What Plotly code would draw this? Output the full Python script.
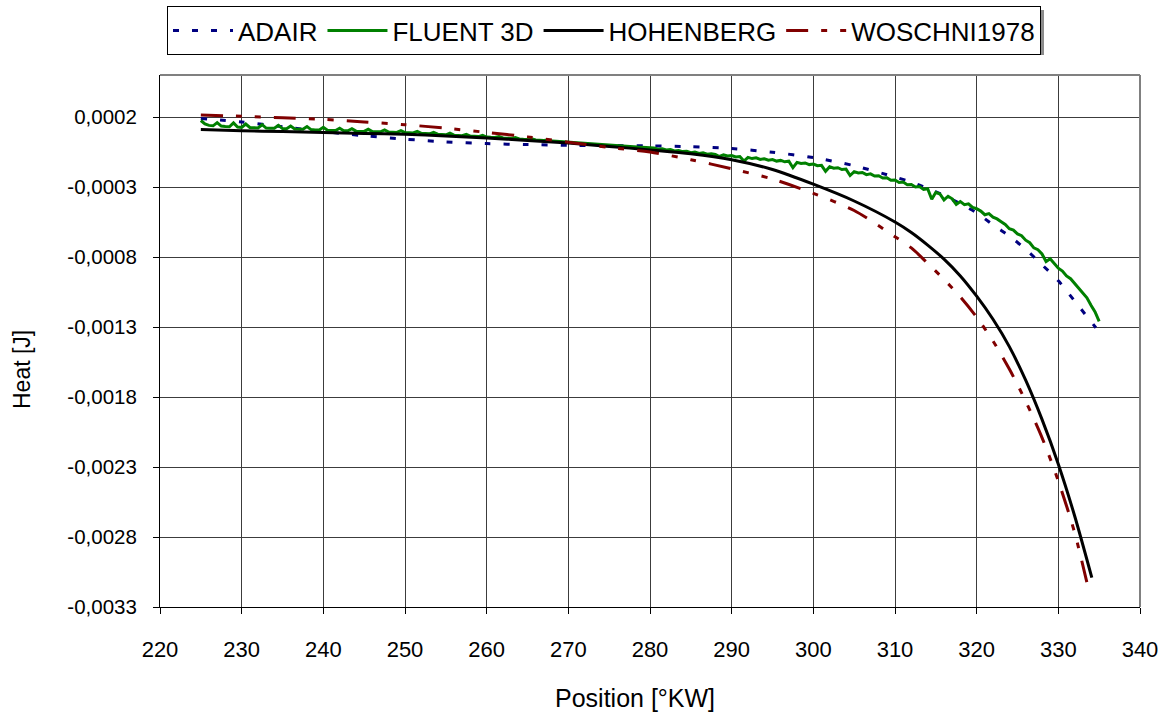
import plotly.graph_objects as go

# ---------------- data ----------------
adair_x = [225, 230, 235, 240, 245, 250, 255, 260, 265, 270, 275, 280, 285, 290, 295,
           300, 305, 310, 312, 314, 316, 318, 320, 322, 324, 326, 328, 330, 332, 334.6]
adair_y = [190e-6, 164e-6, 131e-6, 96e-6, 66e-6, 42e-6, 22e-6, 10e-6, 3e-6, -2e-6,
           -4e-6, -6e-6, -12e-6, -25e-6, -52e-6, -90e-6, -148e-6, -229e-6, -265e-6,
           -310e-6, -360e-6, -420e-6, -485e-6, -570e-6, -650e-6, -745e-6, -855e-6,
           -970e-6, -1115e-6, -1305e-6]

hohenberg_x = [225, 230, 235, 240, 245, 250, 255, 260, 265, 270, 275, 280, 285, 290, 295,
               300, 305, 310, 312, 314, 316, 318, 320, 322, 324, 326, 328, 330, 332, 334.1]
hohenberg_y = [110e-6, 102e-6, 96e-6, 90e-6, 83e-6, 76e-6, 65e-6, 50e-6, 33e-6, 14e-6,
               -10e-6, -35e-6, -62e-6, -105e-6, -175e-6, -280e-6, -400e-6, -550e-6,
               -625e-6, -715e-6, -815e-6, -935e-6, -1080e-6, -1245e-6, -1440e-6,
               -1680e-6, -1960e-6, -2280e-6, -2650e-6, -3090e-6]

woschni_x = [225, 230, 235, 240, 245, 250, 255, 260, 265, 270, 275, 280, 285, 290, 295,
             300, 305, 310, 312, 314, 316, 318, 320, 322, 324, 326, 328, 330, 332, 333.8]
woschni_y = [215e-6, 205e-6, 195e-6, 183e-6, 165e-6, 145e-6, 120e-6, 90e-6, 58e-6, 20e-6,
             -18e-6, -50e-6, -105e-6, -170e-6, -243e-6, -345e-6, -468e-6, -655e-6,
             -735e-6, -845e-6, -960e-6, -1085e-6, -1230e-6, -1400e-6, -1600e-6,
             -1830e-6, -2090e-6, -2400e-6, -2770e-6, -3200e-6]

fluent_x = [
    225.0, 225.5, 226.0, 226.5, 227.0, 227.5, 228.0, 228.5, 229.0, 229.5,
    230.0, 230.5, 231.0, 231.5, 232.0, 232.5, 233.0, 233.5, 234.0, 234.5,
    235.0, 235.5, 236.0, 236.5, 237.0, 237.5, 238.0, 238.5, 239.0, 239.5,
    240.0, 240.5, 241.0, 241.5, 242.0, 242.5, 243.0, 243.5, 244.0, 244.5,
    245.0, 245.5, 246.0, 246.5, 247.0, 247.5, 248.0, 248.5, 249.0, 249.5,
    250.0, 250.5, 251.0, 251.5, 252.0, 252.5, 253.0, 253.5, 254.0, 254.5,
    255.0, 255.5, 256.0, 256.5, 257.0, 257.5, 258.0, 258.5, 259.0, 259.5,
    260.0, 260.5, 261.0, 261.5, 262.0, 262.5, 263.0, 263.5, 264.0, 264.5,
    265.0, 265.5, 266.0, 266.5, 267.0, 267.5, 268.0, 268.5, 269.0, 269.5,
    270.0, 270.5, 271.0, 271.5, 272.0, 272.5, 273.0, 273.5, 274.0, 274.5,
    275.0, 275.5, 276.0, 276.5, 277.0, 277.5, 278.0, 278.5, 279.0, 279.5,
    280.0, 280.5, 281.0, 281.5, 282.0, 282.5, 283.0, 283.5, 284.0, 284.5,
    285.0, 285.5, 286.0, 286.5, 287.0, 287.5, 288.0, 288.5, 289.0, 289.5,
    290.0, 290.5, 291.0, 291.5, 292.0, 292.5, 293.0, 293.5, 294.0, 294.5,
    295.0, 295.5, 296.0, 296.5, 297.0, 297.5, 298.0, 298.5, 299.0, 299.5,
    300.0, 300.5, 301.0, 301.5, 302.0, 302.5, 303.0, 303.5, 304.0, 304.5,
    305.0, 305.5, 306.0, 306.5, 307.0, 307.5, 308.0, 308.5, 309.0, 309.5,
    310.0, 310.5, 311.0, 311.5, 312.0, 312.5, 313.0, 313.5, 314.0, 314.5,
    315.0, 315.5, 316.0, 316.5, 317.0, 317.5, 318.0, 318.5, 319.0, 319.5,
    320.0, 320.5, 321.0, 321.5, 322.0, 322.5, 323.0, 323.5, 324.0, 324.5,
    325.0, 325.5, 326.0, 326.5, 327.0, 327.5, 328.0, 328.5, 329.0, 329.5,
    330.0, 330.5, 331.0, 331.5, 332.0, 332.5, 333.0, 333.5, 334.0, 334.5,
    335.0]
fluent_y = [
    175e-6, 150e-6, 140e-6, 137e-6, 160e-6, 135e-6, 132e-6, 130e-6, 158e-6, 129e-6,
    126e-6, 150e-6, 125e-6, 123e-6, 122e-6, 145e-6, 121e-6, 120e-6, 119e-6, 140e-6,
    117e-6, 116e-6, 136e-6, 115e-6, 113e-6, 112e-6, 132e-6, 110e-6, 108e-6, 107e-6,
    126e-6, 105e-6, 104e-6, 103e-6, 120e-6, 102e-6, 101e-6, 117e-6, 99e-6, 98e-6,
    97e-6, 112e-6, 96e-6, 95e-6, 94e-6, 108e-6, 92e-6, 91e-6, 90e-6, 103e-6,
    88e-6, 87e-6, 86e-6, 98e-6, 83e-6, 82e-6, 80e-6, 91e-6, 77e-6, 75e-6,
    73e-6, 84e-6, 70e-6, 68e-6, 66e-6, 76e-6, 63e-6, 62e-6, 60e-6, 69e-6,
    57e-6, 55e-6, 54e-6, 61e-6, 50e-6, 49e-6, 47e-6, 53e-6, 43e-6, 41e-6,
    40e-6, 45e-6, 36e-6, 34e-6, 32e-6, 36e-6, 28e-6, 26e-6, 24e-6, 27e-6,
    20e-6, 18e-6, 16e-6, 18e-6, 12e-6, 10e-6, 8e-6, 9e-6, 4e-6, 2e-6,
    0e-6, -2e-6, -4e-6, -5e-6, -8e-6, -10e-6, -12e-6, -15e-6, -16e-6, -18e-6,
    -20e-6, -22e-6, -30e-6, -27e-6, -35e-6, -33e-6, -42e-6, -39e-6, -47e-6, -44e-6,
    -55e-6, -50e-6, -60e-6, -55e-6, -66e-6, -62e-6, -68e-6, -82e-6, -71e-6, -78e-6,
    -76e-6, -86e-6, -82e-6, -115e-6, -88e-6, -97e-6, -92e-6, -103e-6, -98e-6, -108e-6,
    -104e-6, -115e-6, -110e-6, -120e-6, -116e-6, -162e-6, -124e-6, -132e-6, -128e-6, -140e-6,
    -136e-6, -148e-6, -145e-6, -188e-6, -156e-6, -166e-6, -162e-6, -175e-6, -172e-6, -218e-6,
    -190e-6, -200e-6, -196e-6, -212e-6, -206e-6, -222e-6, -220e-6, -236e-6, -234e-6, -252e-6,
    -250e-6, -268e-6, -265e-6, -284e-6, -282e-6, -300e-6, -297e-6, -318e-6, -312e-6, -388e-6,
    -338e-6, -350e-6, -392e-6, -366e-6, -384e-6, -424e-6, -404e-6, -426e-6, -420e-6, -446e-6,
    -455e-6, -472e-6, -498e-6, -490e-6, -515e-6, -528e-6, -548e-6, -568e-6, -598e-6, -608e-6,
    -635e-6, -648e-6, -680e-6, -698e-6, -735e-6, -748e-6, -778e-6, -832e-6, -812e-6, -848e-6,
    -880e-6, -900e-6, -935e-6, -955e-6, -990e-6, -1018e-6, -1055e-6, -1092e-6, -1145e-6, -1192e-6,
    -1260e-6]

x_ticks = [220, 230, 240, 250, 260, 270, 280, 290, 300, 310, 320, 330, 340]
y_ticks = [-0.0033, -0.0028, -0.0023, -0.0018, -0.0013, -0.0008, -0.0003, 0.0002]
y_tick_labels = ["-0,0033", "-0,0028", "-0,0023", "-0,0018", "-0,0013", "-0,0008",
                 "-0,0003", "0,0002"]

# ---------------- figure ----------------
W, H = 1169, 715
ML, MR, MT, MB = 160, 29, 75, 108
PW, PH = W - ML - MR, H - MT - MB
FONT = "Liberation Sans, Arial, sans-serif"


def px_x(px):
    return (px - ML) / PW


def px_y(py):
    return (H - MB - py) / PH


fig = go.Figure()
fig.add_trace(go.Scatter(
    x=adair_x, y=adair_y, name="ADAIR", mode="lines",
    line=dict(color="#000080", width=3, dash="6px,13px", shape="spline", smoothing=0.8)))
fig.add_trace(go.Scatter(
    x=fluent_x, y=fluent_y, name="FLUENT 3D", mode="lines",
    line=dict(color="#008000", width=3)))
fig.add_trace(go.Scatter(
    x=hohenberg_x, y=hohenberg_y, name="HOHENBERG", mode="lines",
    line=dict(color="#000000", width=3, shape="spline", smoothing=0.8)))
fig.add_trace(go.Scatter(
    x=woschni_x, y=woschni_y, name="WOSCHNI1978", mode="lines",
    line=dict(color="#800000", width=3, dash="22px,13px,6px,13px,6px,13px",
              shape="spline", smoothing=0.8)))

grid_col = "#3c3c3c"
fig.update_xaxes(
    range=[220, 340], tickvals=x_ticks, ticktext=[str(v) for v in x_ticks],
    showgrid=True, gridcolor=grid_col, gridwidth=1,
    showline=True, linecolor="#000000", linewidth=1,
    ticks="outside", ticklen=6, tickcolor="#000000", ticklabelstandoff=17,
    tickfont=dict(family=FONT, size=22, color="#000000"),
    zeroline=False, fixedrange=True)
fig.update_yaxes(
    range=[-0.0033, 0.0005], tickvals=y_ticks, ticktext=y_tick_labels,
    showgrid=True, gridcolor=grid_col, gridwidth=1,
    showline=True, linecolor="#000000", linewidth=1,
    ticks="outside", ticklen=6, tickcolor="#000000", ticklabelstandoff=12,
    tickfont=dict(family=FONT, size=20.5, color="#000000"),
    zeroline=False, fixedrange=True)

fig.update_layout(
    width=W, height=H,
    margin=dict(l=ML, r=MR, t=MT, b=MB, autoexpand=False),
    paper_bgcolor="white", plot_bgcolor="white",
    font=dict(family=FONT, color="#000000"),
    legend=dict(
        orientation="h", x=px_x(167), y=px_y(6), xanchor="left", yanchor="top",
        bgcolor="white", bordercolor="#000000", borderwidth=1,
        font=dict(family=FONT, size=26, color="#000000"),
        itemwidth=60, tracegroupgap=0),
    shapes=[
        # legend drop shadow
        dict(type="rect", xref="paper", yref="paper",
             x0=px_x(171), x1=px_x(1044), y0=px_y(55), y1=px_y(10),
             fillcolor="#8c8c8c", line=dict(width=0), layer="above"),
        # plot-area frame (top/right)
        dict(type="line", xref="paper", yref="paper", x0=0, x1=1, y0=1, y1=1,
             line=dict(color="#808080", width=2)),
        dict(type="line", xref="paper", yref="paper", x0=1, x1=1, y0=0, y1=1,
             line=dict(color="#808080", width=2)),
    ],
    annotations=[
        dict(text="Position [°KW]", xref="paper", yref="paper",
             x=px_x(635), y=px_y(698), xanchor="center", yanchor="middle",
             showarrow=False, font=dict(family=FONT, size=25, color="#000000")),
        dict(text="Heat [J]", xref="paper", yref="paper", textangle=-90,
             x=px_x(22), y=px_y(370), xanchor="center", yanchor="middle",
             showarrow=False, font=dict(family=FONT, size=23, color="#000000")),
    ],
)

fig.write_html("out.html")
